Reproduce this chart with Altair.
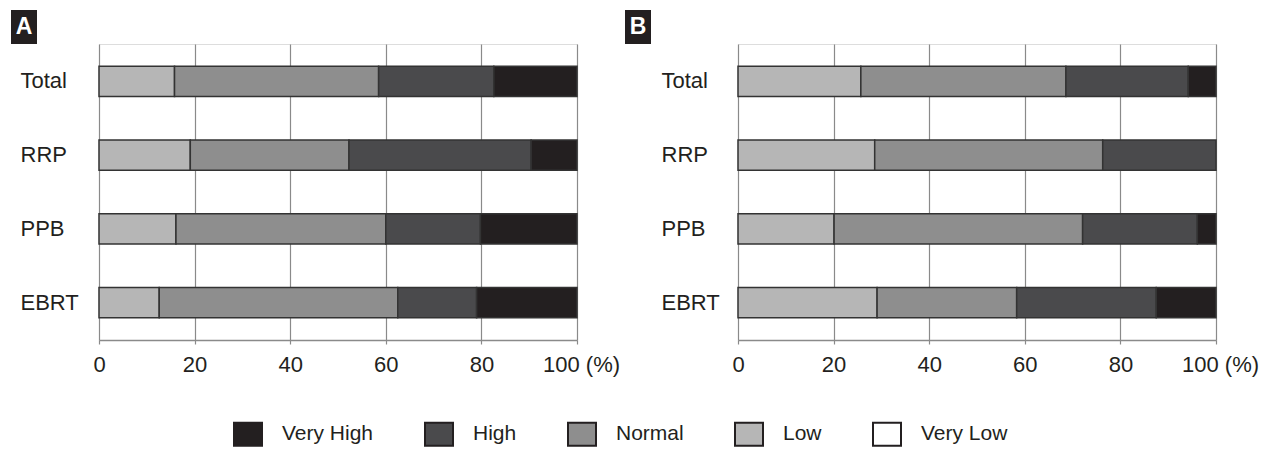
import altair as alt
import pandas as pd

groups = ["Total", "RRP", "PPB", "EBRT"]
levels_legend = ["Very High", "High", "Normal", "Low", "Very Low"]
stack_order = ["Very Low", "Low", "Normal", "High", "Very High"]
colors = ["#231f20", "#4a4a4c", "#8e8e8e", "#b6b6b6", "#ffffff"]

# Panel A (%), per group: Very Low, Low, Normal, High, Very High
a_very_low = [0, 0, 0, 0]
a_low = [15.8, 19.1, 16.1, 12.6]
a_normal = [42.7, 33.2, 43.9, 49.9]
a_high = [24.1, 38.1, 19.8, 16.5]
a_very_high = [17.4, 9.6, 20.2, 21.0]

# Panel B (%)
b_very_low = [0, 0, 0, 0]
b_low = [25.7, 28.6, 20.1, 29.1]
b_normal = [42.9, 47.7, 52.0, 29.2]
b_high = [25.6, 23.7, 24.0, 29.2]
b_very_high = [5.8, 0.0, 3.9, 12.5]

x_ticks = [0, 20, 40, 60, 80, 100]
FONT = "Liberation Sans, Arial, sans-serif"
TXT = "#231f20"
GRID = "#8a8a8a"


def long_df(vl, lo, no, hi, vh):
    rows = []
    series = dict(zip(stack_order, [vl, lo, no, hi, vh]))
    for lvl in stack_order:
        for g, v in zip(groups, series[lvl]):
            rows.append({"group": g, "level": lvl, "value": v,
                         "ord": stack_order.index(lvl)})
    return pd.DataFrame(rows)


legend = alt.Legend(
    orient="none", legendX=134, legendY=375, direction="horizontal",
    title=None, padding=0, offset=0,
    symbolType="M-1,-0.82H1V0.82H-1Z", symbolSize=784,
    symbolStrokeColor="#231f20", symbolStrokeWidth=2, symbolOpacity=1,
    labelFont=FONT, labelFontSize=21, labelColor=TXT, labelOffset=19,
    columnPadding=47, labelLimit=200,
)


def panel(df, letter, lab_pad, box_x):
    base = alt.Chart(df).transform_filter("datum.value > 0")
    bars = base.mark_bar(stroke="#333333", strokeWidth=1.5).encode(
        x=alt.X("sum(value):Q", stack="zero",
                scale=alt.Scale(domain=[0, 100], nice=False),
                axis=alt.Axis(values=x_ticks, title=None, grid=True,
                              gridColor=GRID, gridWidth=1.2,
                              domainColor=GRID, domainWidth=1.5,
                              tickColor=GRID, tickSize=4, tickWidth=1.2,
                              labelFont=FONT, labelFontSize=22,
                              labelColor=TXT, labelPadding=10,
                              labelOverlap=False, labelFlush=False,
                              labelExpr="datum.value == 100 ? '100 (%)' : datum.label",
                              labelOffset={"condition": {"test": "datum.value == 100", "value": 4}, "value": 0})),
        y=alt.Y("group:N", sort=groups,
                scale=alt.Scale(paddingInner=0.59, paddingOuter=0.3),
                axis=alt.Axis(title=None, ticks=False, tickSize=0,
                              domain=False, labelAlign="left",
                              labelPadding=lab_pad, labelFont=FONT,
                              labelFontSize=22, labelColor=TXT)),
        color=alt.Color("level:N",
                        scale=alt.Scale(domain=levels_legend, range=colors),
                        legend=legend),
        order=alt.Order("ord:Q"),
    )
    lab_df = pd.DataFrame({"letter": [letter]})
    box = alt.Chart(lab_df).mark_rect(color="#231f20").encode(
        x=alt.value(box_x), x2=alt.value(box_x + 26),
        y=alt.value(-34), y2=alt.value(0),
    )
    txt = alt.Chart(lab_df).mark_text(
        color="white", font=FONT, fontSize=23, fontWeight="bold",
        baseline="middle", align="center",
    ).encode(x=alt.value(box_x + 13), y=alt.value(-17), text="letter:N")
    return alt.layer(bars, box, txt).properties(width=478, height=296)


df_a = long_df(a_very_low, a_low, a_normal, a_high, a_very_high)
df_b = long_df(b_very_low, b_low, b_normal, b_high, b_very_high)

chart = alt.hconcat(
    panel(df_a, "A", 79, -88),
    panel(df_b, "B", 77, -113),
    spacing=3,
).properties(
    padding={"left": 2, "top": 1, "right": 0, "bottom": 0},
).configure_view(stroke=GRID, strokeWidth=1.5).configure(background="white")

chart.save("out.html", embed_options={"renderer": "svg", "actions": False})
